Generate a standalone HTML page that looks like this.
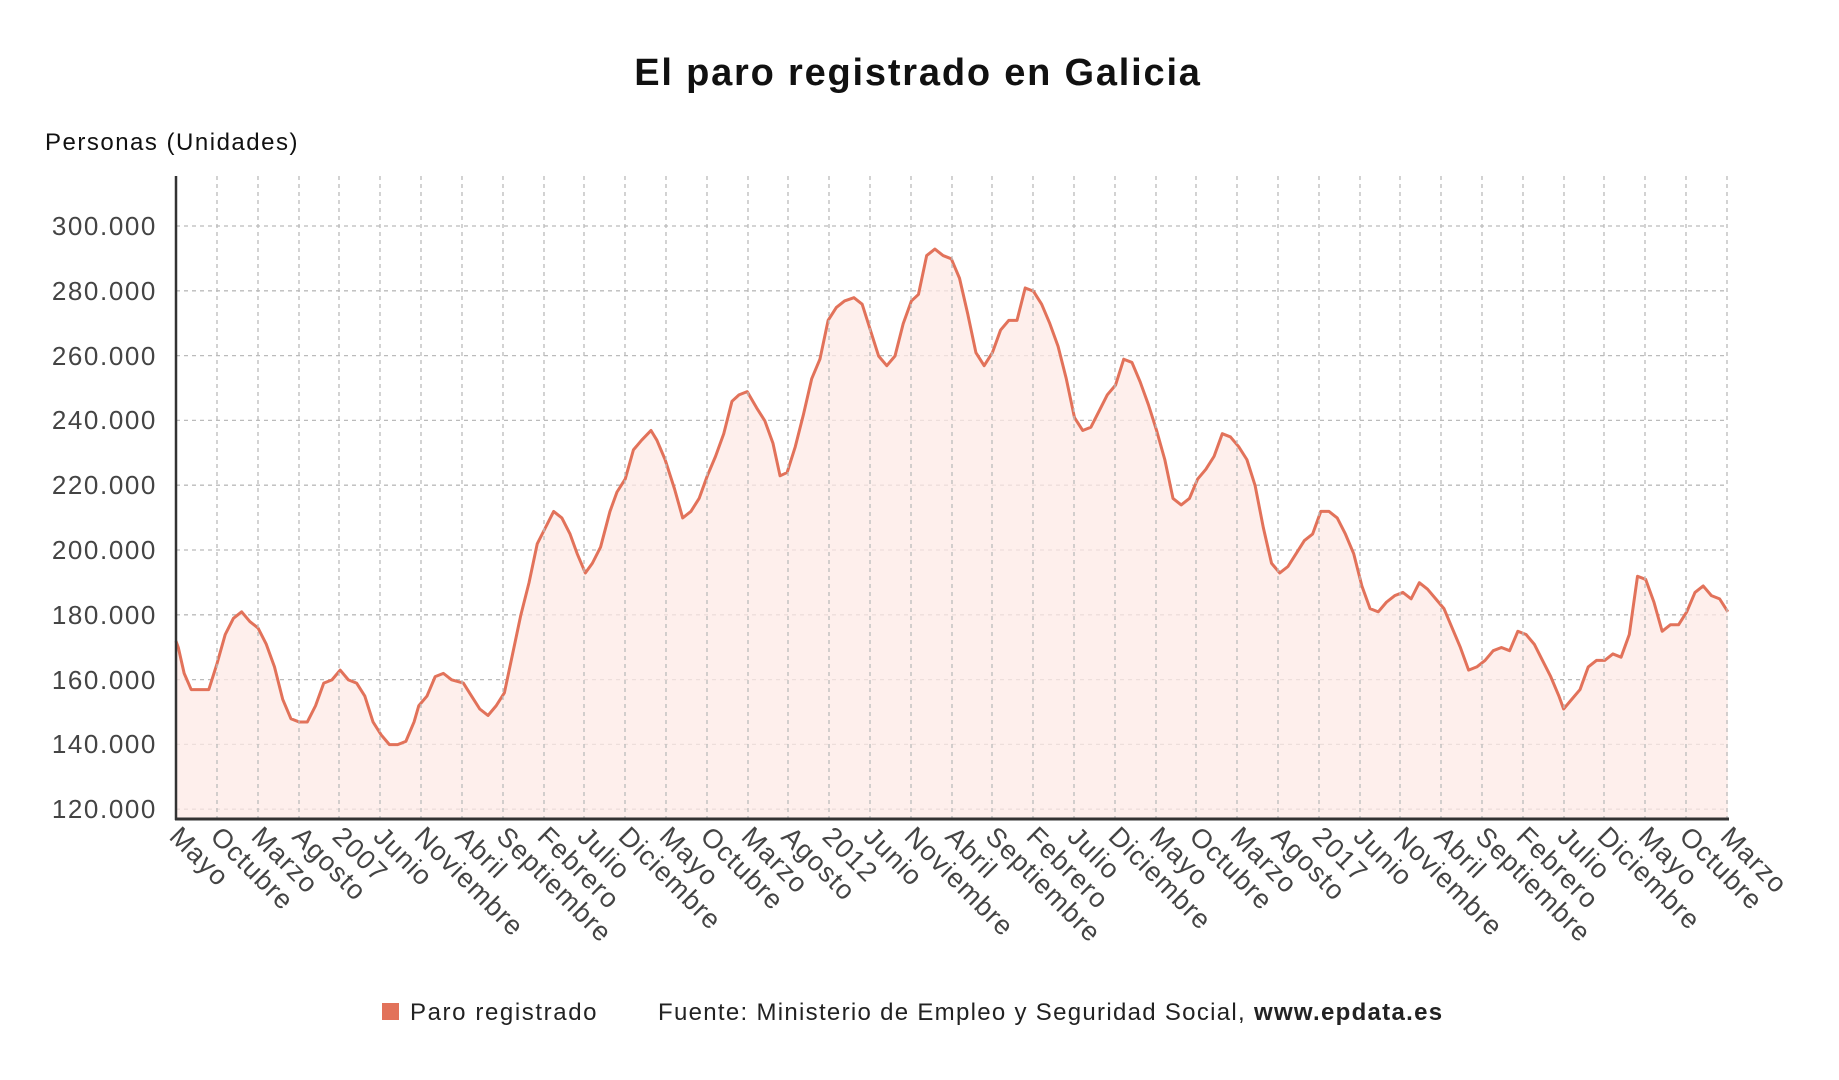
<!DOCTYPE html>
<html><head><meta charset="utf-8"><style>
html,body{margin:0;padding:0;background:#fff;}
svg{display:block;font-family:"Liberation Sans",sans-serif;}
</style></head><body>
<svg width="1839" height="1080" viewBox="0 0 1839 1080" xmlns="http://www.w3.org/2000/svg">
<text x="918" y="85" text-anchor="middle" font-size="38" font-weight="bold" fill="#111" letter-spacing="1.8">El paro registrado en Galicia</text>
<text x="45" y="150" font-size="24" fill="#111" letter-spacing="1.5">Personas (Unidades)</text>
<g stroke="#bbb" stroke-width="1.3" stroke-dasharray="4,4">
<line x1="176" x2="1728" y1="226" y2="226"/><line x1="176" x2="1728" y1="290.8" y2="290.8"/><line x1="176" x2="1728" y1="355.6" y2="355.6"/><line x1="176" x2="1728" y1="420.4" y2="420.4"/><line x1="176" x2="1728" y1="485.2" y2="485.2"/><line x1="176" x2="1728" y1="550" y2="550"/><line x1="176" x2="1728" y1="614.8" y2="614.8"/><line x1="176" x2="1728" y1="679.6" y2="679.6"/><line x1="176" x2="1728" y1="744.4" y2="744.4"/><line x1="176" x2="1728" y1="809.2" y2="809.2"/>
</g>
<g transform="matrix(1.173,0,0,-3.2387,0,1198.04)">
<polygon fill="#fdeae5" fill-opacity="0.75" points="150,117.3 150,172 152,170 157,162 163,157 178,157 185,165 192,174 199,179 206,181 213,178 220,176 227,171 234,164 241,154 248,148 255,147 262,147 269,152 276,159 283,160 290,163 297,160 304,159 311,155 318,147 325,143 332,140 339,140 346,141 353,147 357,152 364,155 371,161 378,162 385,160 395,159 402,155 409,151 416,149 423,152 430,156 437,168 444,180 451,190 458,202 465,207 472,212 479,210 486,205 492,199 499,193 505,196 512,201 520,212 526,218 533,222 540,231 547,234 555,237 560,234 567,228 575,219 582,210 589,212 596,216 603,223 610,229 617,236 624,246 630,248 637,249 645,244 652,240 659,233 665,223 671,224 678,232 685,242 692,253 699,259 706,271 713,275 720,277 728,278 735,276 742,268 749,260 756,257 763,260 770,270 777,277 783,279 790,291 797,293 804,291 811,290 818,284 825,273 832,261 839,257 846,261 853,268 860,271 867,271 874,281 881,280 888,276 895,270 902,263 909,253 916,241 923,237 930,238 937,243 944,248 951,251 958,259 965,258 972,252 979,245 986,237 993,228 1000,216 1007,214 1014,216 1021,222 1028,225 1035,229 1042,236 1049,235 1056,232 1063,228 1070,220 1077,207 1084,196 1091,193 1098,195 1105,199 1112,203 1119,205 1126,212 1133,212 1140,210 1147,205 1154,199 1161,189 1168,182 1175,181 1182,184 1189,186 1196,187 1203,185 1210,190 1217,188 1224,185 1231,182 1238,176 1245,170 1252,163 1259,164 1266,166 1273,169 1280,170 1287,169 1294,175 1301,174 1308,171 1315,166 1322,161 1329,155 1333,151 1340,154 1347,157 1354,164 1361,166 1368,166 1375,168 1382,167 1389,174 1396,192 1403,191 1410,184 1417,175 1424,177 1431,177 1438,181 1445,187 1452,189 1459,186 1466,185 1473,181 1473,117.3"/>
<polyline fill="none" stroke="#e2725a" stroke-width="3" vector-effect="non-scaling-stroke" stroke-linejoin="round" points="150,172 152,170 157,162 163,157 178,157 185,165 192,174 199,179 206,181 213,178 220,176 227,171 234,164 241,154 248,148 255,147 262,147 269,152 276,159 283,160 290,163 297,160 304,159 311,155 318,147 325,143 332,140 339,140 346,141 353,147 357,152 364,155 371,161 378,162 385,160 395,159 402,155 409,151 416,149 423,152 430,156 437,168 444,180 451,190 458,202 465,207 472,212 479,210 486,205 492,199 499,193 505,196 512,201 520,212 526,218 533,222 540,231 547,234 555,237 560,234 567,228 575,219 582,210 589,212 596,216 603,223 610,229 617,236 624,246 630,248 637,249 645,244 652,240 659,233 665,223 671,224 678,232 685,242 692,253 699,259 706,271 713,275 720,277 728,278 735,276 742,268 749,260 756,257 763,260 770,270 777,277 783,279 790,291 797,293 804,291 811,290 818,284 825,273 832,261 839,257 846,261 853,268 860,271 867,271 874,281 881,280 888,276 895,270 902,263 909,253 916,241 923,237 930,238 937,243 944,248 951,251 958,259 965,258 972,252 979,245 986,237 993,228 1000,216 1007,214 1014,216 1021,222 1028,225 1035,229 1042,236 1049,235 1056,232 1063,228 1070,220 1077,207 1084,196 1091,193 1098,195 1105,199 1112,203 1119,205 1126,212 1133,212 1140,210 1147,205 1154,199 1161,189 1168,182 1175,181 1182,184 1189,186 1196,187 1203,185 1210,190 1217,188 1224,185 1231,182 1238,176 1245,170 1252,163 1259,164 1266,166 1273,169 1280,170 1287,169 1294,175 1301,174 1308,171 1315,166 1322,161 1329,155 1333,151 1340,154 1347,157 1354,164 1361,166 1368,166 1375,168 1382,167 1389,174 1396,192 1403,191 1410,184 1417,175 1424,177 1431,177 1438,181 1445,187 1452,189 1459,186 1466,185 1473,181"/>
</g>
<g stroke="#bbb" stroke-width="1.3" stroke-dasharray="4,4">
<line y1="176" y2="818" x1="217" x2="217"/><line y1="176" y2="818" x1="258" x2="258"/><line y1="176" y2="818" x1="299" x2="299"/><line y1="176" y2="818" x1="339" x2="339"/><line y1="176" y2="818" x1="380" x2="380"/><line y1="176" y2="818" x1="421" x2="421"/><line y1="176" y2="818" x1="462" x2="462"/><line y1="176" y2="818" x1="503" x2="503"/><line y1="176" y2="818" x1="544" x2="544"/><line y1="176" y2="818" x1="584" x2="584"/><line y1="176" y2="818" x1="625" x2="625"/><line y1="176" y2="818" x1="666" x2="666"/><line y1="176" y2="818" x1="707" x2="707"/><line y1="176" y2="818" x1="748" x2="748"/><line y1="176" y2="818" x1="788" x2="788"/><line y1="176" y2="818" x1="829" x2="829"/><line y1="176" y2="818" x1="870" x2="870"/><line y1="176" y2="818" x1="911" x2="911"/><line y1="176" y2="818" x1="952" x2="952"/><line y1="176" y2="818" x1="992" x2="992"/><line y1="176" y2="818" x1="1033" x2="1033"/><line y1="176" y2="818" x1="1074" x2="1074"/><line y1="176" y2="818" x1="1115" x2="1115"/><line y1="176" y2="818" x1="1156" x2="1156"/><line y1="176" y2="818" x1="1196" x2="1196"/><line y1="176" y2="818" x1="1237" x2="1237"/><line y1="176" y2="818" x1="1278" x2="1278"/><line y1="176" y2="818" x1="1319" x2="1319"/><line y1="176" y2="818" x1="1360" x2="1360"/><line y1="176" y2="818" x1="1400" x2="1400"/><line y1="176" y2="818" x1="1441" x2="1441"/><line y1="176" y2="818" x1="1482" x2="1482"/><line y1="176" y2="818" x1="1523" x2="1523"/><line y1="176" y2="818" x1="1564" x2="1564"/><line y1="176" y2="818" x1="1604" x2="1604"/><line y1="176" y2="818" x1="1645" x2="1645"/><line y1="176" y2="818" x1="1686" x2="1686"/><line y1="176" y2="818" x1="1727" x2="1727"/>
</g>
<line x1="176" y1="176" x2="176" y2="820" stroke="#333" stroke-width="2.5"/>
<line x1="175" y1="819" x2="1729" y2="819" stroke="#333" stroke-width="3"/>
<g font-size="26" fill="#444" text-anchor="end" letter-spacing="1.6">
<text x="157" y="235">300.000</text><text x="157" y="300">280.000</text><text x="157" y="365">260.000</text><text x="157" y="429">240.000</text><text x="157" y="494">220.000</text><text x="157" y="559">200.000</text><text x="157" y="624">180.000</text><text x="157" y="689">160.000</text><text x="157" y="753">140.000</text><text x="157" y="818">120.000</text>
</g>
<rect x="382" y="1003" width="17" height="17" fill="#e2725a"/>
<text x="410" y="1020" font-size="24" fill="#222" letter-spacing="1.6">Paro registrado</text>
<text x="658" y="1020" font-size="24" fill="#222" letter-spacing="1.3">Fuente: Ministerio de Empleo y Seguridad Social, <tspan font-weight="bold">www.epdata.es</tspan></text>
<g font-size="27" fill="#444" letter-spacing="1.2">
<text transform="translate(168,838) rotate(45)">Mayo</text>
<text transform="translate(209,838) rotate(45)">Octubre</text>
<text transform="translate(250,838) rotate(45)">Marzo</text>
<text transform="translate(291,838) rotate(45)">Agosto</text>
<text transform="translate(331,838) rotate(45)">2007</text>
<text transform="translate(372,838) rotate(45)">Junio</text>
<text transform="translate(413,838) rotate(45)">Noviembre</text>
<text transform="translate(454,838) rotate(45)">Abril</text>
<text transform="translate(495,838) rotate(45)">Septiembre</text>
<text transform="translate(536,838) rotate(45)">Febrero</text>
<text transform="translate(576,838) rotate(45)">Julio</text>
<text transform="translate(617,838) rotate(45)">Diciembre</text>
<text transform="translate(658,838) rotate(45)">Mayo</text>
<text transform="translate(699,838) rotate(45)">Octubre</text>
<text transform="translate(740,838) rotate(45)">Marzo</text>
<text transform="translate(780,838) rotate(45)">Agosto</text>
<text transform="translate(821,838) rotate(45)">2012</text>
<text transform="translate(862,838) rotate(45)">Junio</text>
<text transform="translate(903,838) rotate(45)">Noviembre</text>
<text transform="translate(944,838) rotate(45)">Abril</text>
<text transform="translate(984,838) rotate(45)">Septiembre</text>
<text transform="translate(1025,838) rotate(45)">Febrero</text>
<text transform="translate(1066,838) rotate(45)">Julio</text>
<text transform="translate(1107,838) rotate(45)">Diciembre</text>
<text transform="translate(1148,838) rotate(45)">Mayo</text>
<text transform="translate(1188,838) rotate(45)">Octubre</text>
<text transform="translate(1229,838) rotate(45)">Marzo</text>
<text transform="translate(1270,838) rotate(45)">Agosto</text>
<text transform="translate(1311,838) rotate(45)">2017</text>
<text transform="translate(1352,838) rotate(45)">Junio</text>
<text transform="translate(1392,838) rotate(45)">Noviembre</text>
<text transform="translate(1433,838) rotate(45)">Abril</text>
<text transform="translate(1474,838) rotate(45)">Septiembre</text>
<text transform="translate(1515,838) rotate(45)">Febrero</text>
<text transform="translate(1556,838) rotate(45)">Julio</text>
<text transform="translate(1596,838) rotate(45)">Diciembre</text>
<text transform="translate(1637,838) rotate(45)">Mayo</text>
<text transform="translate(1678,838) rotate(45)">Octubre</text>
<text transform="translate(1719,838) rotate(45)">Marzo</text>
</g>
</svg>
</body></html>
